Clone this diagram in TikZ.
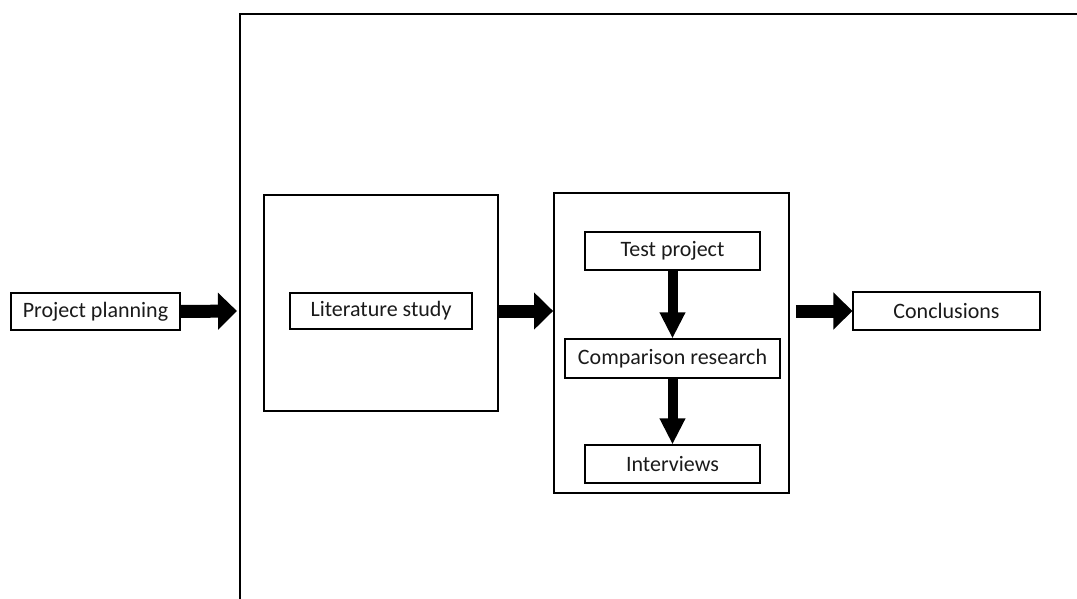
\documentclass[tikz,border=0pt]{standalone}
\usepackage{fontspec}
\setmainfont{Carlito}
\usetikzlibrary{arrows.meta}
\definecolor{ink}{HTML}{1A1A1A}
\begin{document}
\begin{tikzpicture}[x=1pt,y=-1pt,
  txt/.style={font=\fontsize{22}{25}\selectfont,text=ink},
  smallbox/.style={draw,line width=1.1pt,rectangle,inner sep=0pt,txt},
  bigbox/.style={draw,line width=1.8pt,rectangle,inner sep=0pt},
  harrow/.style={line width=13pt,-{Triangle[width=36pt,length=19pt]}},
  varrow/.style={line width=10pt,-{Triangle[width=24pt,length=26pt]}}]
\useasboundingbox (0,0) rectangle (1077,599);
% outer frame (continues past the page on the right and bottom)
\draw[line width=2pt] (240,700) -- (240,14) -- (1090,14);
\coordinate (fl) at (240,311);

\node[smallbox,minimum width=169pt,minimum height=37pt] (pp) at (95.5,311.5) {Project planning};

\node[bigbox,minimum width=234pt,minimum height=216pt] (lit) at (381,303) {};
\node[smallbox,minimum width=182pt,minimum height=36pt] (ls) at (381,311) {Literature study};

\node[bigbox,minimum width=235pt,minimum height=300pt] (mid) at (671.5,343) {};
\node[smallbox,minimum width=175pt,minimum height=38pt] (tp) at (672.5,251) {Test project};
\node[smallbox,minimum width=215pt,minimum height=39pt] (cr) at (672.5,358.5) {Comparison research};
\node[smallbox,minimum width=175pt,minimum height=38pt] (iv) at (672.5,464) {Interviews};

\node[smallbox,minimum width=187pt,minimum height=38pt] (cc) at (946.5,311) {Conclusions};

\draw[harrow,shorten >=3pt] (pp.east) -- (fl);
\draw[harrow] (lit.east |- ls.east) -- (mid.west |- ls.east);
\draw[harrow,shorten <=6pt] (mid.east |- cc.west) -- (cc.west);
\draw[varrow] (tp.south) -- (cr.north);
\draw[varrow] (cr.south) -- (iv.north);
\end{tikzpicture}
\end{document}
